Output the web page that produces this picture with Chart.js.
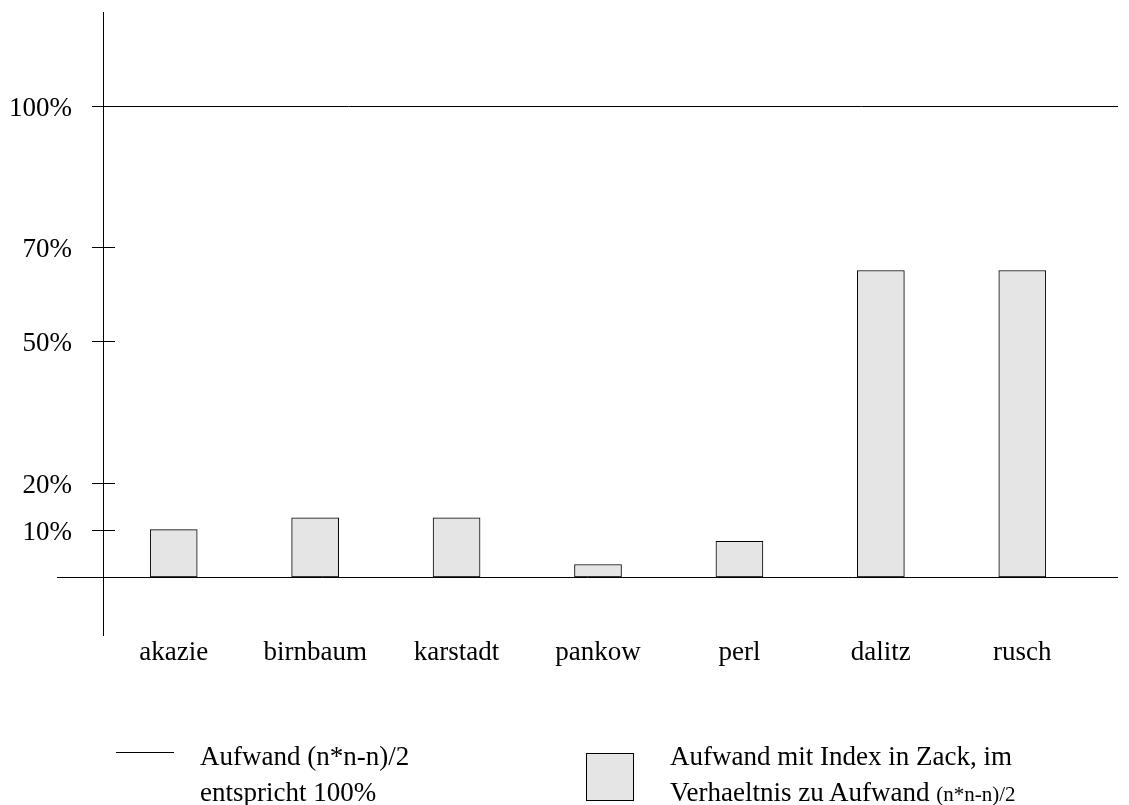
<!DOCTYPE html>
<html>
<head>
<meta charset="utf-8">
<script src="https://cdn.jsdelivr.net/npm/chart.js@4.4.1/dist/chart.umd.min.js"></script>
<style>
  html, body { margin: 0; padding: 0; background: #fff; }
  #wrap { position: relative; width: 1129px; height: 805px; overflow: hidden; background: #fff; }
  #c { position: absolute; left: 0; top: 0; }
  .lg { position: absolute; font-family: "Liberation Serif", "Times New Roman", serif; font-size: 27px; line-height: 36px; color: #000; white-space: nowrap; }
  .small { font-size: 21px; }
  #lgLine { position: absolute; left: 116px; top: 752px; width: 58px; height: 1px; background: #000; }
  #lgBox { position: absolute; left: 586px; top: 753px; width: 48px; height: 48px; box-sizing: border-box; border: 1px solid #000; background: #e5e5e5; }
</style>
</head>
<body>
<div id="wrap">
  <canvas id="c" width="1129" height="805"></canvas>
  <div id="lgLine"></div>
  <div class="lg" style="left:200px; top:738px;">Aufwand (n*n-n)/2<br>entspricht 100%</div>
  <div id="lgBox"></div>
  <div class="lg" style="left:670px; top:738px;">Aufwand mit Index in Zack, im<br>Verhaeltnis zu Aufwand <span class="small">(n*n-n)/2</span></div>
</div>
<script>
// ---- data ----
const categories = ['akazie', 'birnbaum', 'karstadt', 'pankow', 'perl', 'dalitz', 'rusch'];
const values = [10, 12.5, 12.5, 2.6, 7.5, 65, 65];
const tickValues = [10, 20, 50, 70, 100];
const tickLabels = ['10%', '20%', '50%', '70%', '100%'];
const ruleValues = [0, 100];

const FONT = '"Liberation Serif", "Times New Roman", serif';

const rulesPlugin = {
  id: 'rules',
  beforeDatasetsDraw(chart) {
    const ctx = chart.ctx;
    const y = chart.scales.y;
    const axisX = y.right;
    ctx.save();
    ctx.strokeStyle = '#000';
    ctx.lineWidth = 1;
    // short tick marks crossing the axis
    tickValues.forEach(v => {
      const py = Math.round(y.getPixelForValue(v)) + 0.5;
      ctx.beginPath();
      ctx.moveTo(axisX - 11, py);
      ctx.lineTo(axisX + 12, py);
      ctx.stroke();
    });
    // full-width rule lines (0% baseline and 100% reference)
    ruleValues.forEach(v => {
      const py = Math.round(y.getPixelForValue(v)) + 0.5;
      const startX = v === 0 ? axisX - 46 : axisX - 11;
      ctx.beginPath();
      ctx.moveTo(startX, py);
      ctx.lineTo(chart.width - 11, py);
      ctx.stroke();
    });
    ctx.restore();
  }
};

new Chart(document.getElementById('c'), {
  type: 'bar',
  data: {
    labels: categories,
    datasets: [{
      data: values,
      backgroundColor: '#e5e5e5',
      borderColor: '#000',
      borderWidth: 1,
      borderSkipped: false,
      barThickness: 47
    }]
  },
  options: {
    responsive: false,
    animation: false,
    devicePixelRatio: 1,
    layout: { padding: { top: 12, right: 36, left: 0, bottom: 0 } },
    plugins: { legend: { display: false }, tooltip: { enabled: false } },
    scales: {
      x: {
        type: 'category',
        offset: true,
        grid: { display: false, drawTicks: false },
        border: { display: false },
        ticks: { color: '#000', font: { family: FONT, size: 27 }, padding: 2, maxRotation: 0, autoSkip: false },
        afterFit(s) { s.height = 170; s.paddingLeft = 0; s.paddingRight = 0; }
      },
      y: {
        min: -12.35,
        max: 119.84,
        grid: { display: false, drawTicks: false },
        border: { display: true, color: '#000', width: 1 },
        ticks: {
          color: '#000',
          font: { family: FONT, size: 27 },
          padding: 31,
          labelOffset: 3,
          callback: (v) => { const i = tickValues.indexOf(v); return i >= 0 ? tickLabels[i] : ''; }
        },
        afterBuildTicks(s) { s.ticks = tickValues.map(v => ({ value: v })); },
        afterFit(s) { s.width = 103; s.paddingTop = 0; s.paddingBottom = 0; }
      }
    }
  },
  plugins: [rulesPlugin]
});
</script>
</body>
</html>
